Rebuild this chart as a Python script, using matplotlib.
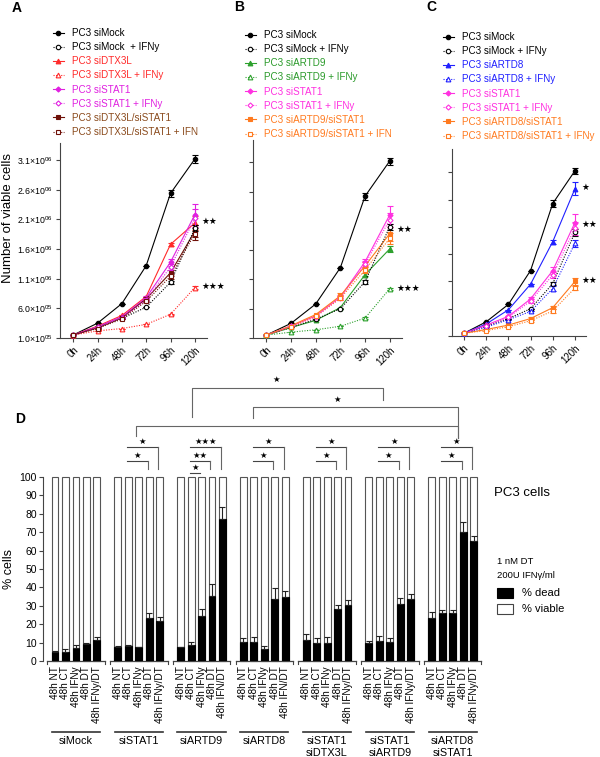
import matplotlib
matplotlib.use('Agg')
import numpy as np
import matplotlib.pyplot as plt
from matplotlib.lines import Line2D
from matplotlib.patches import Rectangle

plt.rcParams['font.family'] = ['Liberation Sans', 'DejaVu Sans']
plt.rcParams['mathtext.default'] = 'regular'

W, H = 600, 757

def fx(px):
    return px / W

def fy(py):
    return 1 - py / H

# ---------------- growth curves (cells x 1e6) ----------------
hours = [0, 24, 48, 72, 96, 120]
hour_labels = ['0h', '24h', '48h', '72h', '96h', '120h']

a_mock = [0.15, 0.35, 0.68, 1.32, 2.54, 3.12]
a_mock_ifn = [0.15, 0.28, 0.43, 0.62, 1.04, 1.95]
a_dtx3l = [0.15, 0.30, 0.48, 0.80, 1.68, 2.04]
a_dtx3l_ifn = [0.15, 0.22, 0.26, 0.33, 0.50, 0.95]
a_stat1 = [0.15, 0.29, 0.46, 0.78, 1.38, 2.18]
a_stat1_ifn = [0.15, 0.28, 0.44, 0.74, 1.30, 2.12]
a_dtx_stat = [0.15, 0.27, 0.44, 0.76, 1.20, 1.90]
a_dtx_stat_ifn = [0.15, 0.26, 0.42, 0.72, 1.14, 1.86]
a_err = [[0, 0, 0, 0, 0.06, 0.07], [0, 0, 0, 0, 0.03, 0.05], [0, 0, 0, 0, 0.03, 0.12],
         [0, 0, 0, 0, 0.01, 0.02], [0, 0, 0, 0.03, 0.06, 0.18], [0, 0, 0, 0.03, 0.05, 0.15],
         [0, 0, 0, 0.03, 0.05, 0.10], [0, 0, 0, 0.02, 0.04, 0.10]]

b_mock = [0.15, 0.35, 0.68, 1.30, 2.52, 3.12]
b_mock_ifn = [0.15, 0.28, 0.42, 0.60, 1.06, 2.00]
b_artd9 = [0.15, 0.28, 0.40, 0.62, 1.18, 1.62]
b_artd9_ifn = [0.15, 0.20, 0.24, 0.30, 0.44, 0.94]
b_stat1 = [0.15, 0.30, 0.48, 0.80, 1.40, 2.20]
b_stat1_ifn = [0.15, 0.30, 0.46, 0.78, 1.36, 2.12]
b_artd9_stat = [0.15, 0.31, 0.50, 0.82, 1.33, 1.88]
b_artd9_stat_ifn = [0.15, 0.29, 0.47, 0.78, 1.26, 1.80]
b_err = [[0, 0, 0, 0, 0.06, 0.06], [0, 0, 0, 0, 0.03, 0.05], [0, 0, 0, 0, 0.03, 0.05],
         [0, 0, 0, 0, 0.01, 0.02], [0, 0, 0, 0.03, 0.05, 0.15], [0, 0, 0, 0.03, 0.05, 0.12],
         [0, 0, 0, 0.04, 0.06, 0.12], [0, 0, 0, 0.03, 0.05, 0.10]]

c_mock = [0.15, 0.36, 0.68, 1.30, 2.53, 3.13]
c_mock_ifn = [0.15, 0.28, 0.42, 0.60, 1.06, 2.00]
c_artd8 = [0.15, 0.32, 0.58, 1.05, 1.83, 2.80]
c_artd8_ifn = [0.15, 0.26, 0.40, 0.55, 0.97, 1.80]
c_stat1 = [0.15, 0.30, 0.46, 0.78, 1.30, 2.18]
c_stat1_ifn = [0.15, 0.29, 0.44, 0.74, 1.22, 2.08]
c_artd8_stat = [0.15, 0.22, 0.30, 0.42, 0.62, 1.10]
c_artd8_stat_ifn = [0.15, 0.20, 0.27, 0.38, 0.56, 0.98]
c_err = [[0, 0, 0, 0, 0.06, 0.06], [0, 0, 0, 0, 0.03, 0.06], [0, 0, 0, 0, 0.04, 0.12],
         [0, 0, 0, 0, 0.04, 0.06], [0, 0, 0, 0.03, 0.06, 0.15], [0, 0, 0, 0.03, 0.05, 0.12],
         [0, 0, 0, 0.02, 0.03, 0.07], [0, 0, 0, 0.02, 0.03, 0.04]]

a_labels = ['PC3 siMock', 'PC3 siMock  + IFNy', 'PC3 siDTX3L', 'PC3 siDTX3L + IFNy',
            'PC3 siSTAT1', 'PC3 siSTAT1 + IFNy', 'PC3 siDTX3L/siSTAT1', 'PC3 siDTX3L/siSTAT1 + IFN']
b_labels = ['PC3 siMock', 'PC3 siMock + IFNy', 'PC3 siARTD9', 'PC3 siARTD9 + IFNy',
            'PC3 siSTAT1', 'PC3 siSTAT1 + IFNy', 'PC3 siARTD9/siSTAT1', 'PC3 siARTD9/siSTAT1 + IFN']
c_labels = ['PC3 siMock', 'PC3 siMock + IFNy', 'PC3 siARTD8', 'PC3 siARTD8 + IFNy',
            'PC3 siSTAT1', 'PC3 siSTAT1 + IFNy', 'PC3 siARTD8/siSTAT1', 'PC3 siARTD8/siSTAT1 + IFNy']

# significance marks next to 120h: (value x1e6, stars)
a_stars = [(2.06, '★★'), (0.97, '★★★')]
b_stars = [(1.96, '★★'), (0.94, '★★★')]
c_stars = [(2.82, '★'), (2.15, '★★'), (1.11, '★★')]

# ---------------- % dead cells (panel D) ----------------
groups = ['siMock', 'siSTAT1', 'siARTD9', 'siARTD8', 'siSTAT1\nsiDTX3L', 'siSTAT1\nsiARTD9', 'siARTD8\nsiSTAT1']
last_cond = ['48h IFNy/DT', '48h IFNy/DT', '48h IFN/DT', '48h IFN/DT', '48h IFNy/DT', '48h IFNy/DT', '48h IFNy/DT']
conds = ['48h NT', '48h CT', '48h IFNy', '48h DT']

d_simock = [4.9, 4.9, 7.0, 9.0, 11.4]
d_sistat1 = [7.4, 8.0, 7.4, 23.5, 21.7]
d_siartd9 = [7.4, 8.5, 24.3, 35.5, 77.2]
d_siartd8 = [10.2, 10.2, 6.5, 33.7, 34.8]
d_stat1_dtx3l = [11.3, 9.8, 9.8, 28.0, 30.4]
d_stat1_artd9 = [9.6, 10.8, 10.2, 31.0, 33.7]
d_artd8_stat1 = [23.3, 26.0, 26.0, 70.0, 65.0]

e_simock = [0.5, 1.5, 1.7, 0.6, 1.6]
e_sistat1 = [0.6, 0.7, 0.4, 2.5, 2.2]
e_siartd9 = [0.4, 1.6, 3.8, 6.3, 6.6]
e_siartd8 = [2.2, 2.7, 1.7, 6.0, 3.2]
e_stat1_dtx3l = [3.3, 2.7, 3.3, 2.5, 2.6]
e_stat1_artd9 = [1.0, 2.7, 2.2, 3.0, 2.8]
e_artd8_stat1 = [3.3, 1.7, 1.5, 5.6, 3.0]

dead = [d_simock, d_sistat1, d_siartd9, d_siartd8, d_stat1_dtx3l, d_stat1_artd9, d_artd8_stat1]
dead_err = [e_simock, e_sistat1, e_siartd9, e_siartd8, e_stat1_dtx3l, e_stat1_artd9, e_artd8_stat1]

# within-group brackets: (group, bar to compare, stars)
sub_brackets = [(1, 4, '★'), (1, 3, '★'),
                (2, 4, '★★★'), (2, 3, '★★'), (2, 2, '★'),
                (3, 4, '★'), (3, 3, '★'),
                (4, 4, '★'), (4, 3, '★'),
                (5, 4, '★'), (5, 3, '★'),
                (6, 4, '★'), (6, 3, '★')]

fig = plt.figure(figsize=(6, 7.57), dpi=100)

markers = ['o', 'o', '^', '^', 'D', 'D', 's', 's']
sizes = [3.2, 3.2, 3.4, 3.4, 2.6, 2.6, 3.0, 3.0]
filled = [True, False] * 4
dotted = (0, (1, 1.3))

panels = [
    dict(rect=(60, 143, 207, 338), ymax=3.39, data=[a_mock, a_mock_ifn, a_dtx3l, a_dtx3l_ifn, a_stat1, a_stat1_ifn, a_dtx_stat, a_dtx_stat_ifn],
         err=a_err, labels=a_labels,
         colors=['black', 'black', '#ff2a2a', '#ff2a2a', '#e020e0', '#e020e0', '#6e1008', '#6e1008'],
         tcolors=['black', 'black', '#ff2a2a', '#ff2a2a', '#e020e0', '#e020e0', '#8a4a1c', '#8a4a1c'],
         leg=(53, 28), stars=a_stars, letter=('A', 12, 8), yticklabels=True),
    dict(rect=(253, 140, 402, 338), ymax=3.48, data=[b_mock, b_mock_ifn, b_artd9, b_artd9_ifn, b_stat1, b_stat1_ifn, b_artd9_stat, b_artd9_stat_ifn],
         err=b_err, labels=b_labels,
         colors=['black', 'black', '#2ca02c', '#2ca02c', '#ff30e0', '#ff30e0', '#ff7a1f', '#ff7a1f'],
         tcolors=['black', 'black', '#2a9a2a', '#2a9a2a', '#ff30e0', '#ff30e0', '#ff7a1f', '#ff7a1f'],
         leg=(245, 30), stars=b_stars, letter=('B', 234, 7), yticklabels=False),
    dict(rect=(452, 149, 586, 336), ymax=3.53, data=[c_mock, c_mock_ifn, c_artd8, c_artd8_ifn, c_stat1, c_stat1_ifn, c_artd8_stat, c_artd8_stat_ifn],
         err=c_err, labels=c_labels,
         colors=['black', 'black', '#2020ff', '#2020ff', '#ff30e0', '#ff30e0', '#ff7a1f', '#ff7a1f'],
         tcolors=['black', 'black', '#2020ff', '#2020ff', '#ff30e0', '#ff30e0', '#ff7a1f', '#ff7a1f'],
         leg=(443, 32), stars=c_stars, letter=('C', 426, 7), yticklabels=False),
]

ytick_vals = [0.1, 0.6, 1.1, 1.6, 2.1, 2.6, 3.1]
ytick_text = ['1.0×10$^{05}$', '6.0×10$^{05}$', '1.1×10$^{06}$', '1.6×10$^{06}$',
              '2.1×10$^{06}$', '2.6×10$^{06}$', '3.1×10$^{06}$']

for p in panels:
    x0, y0, x1, y1 = p['rect']
    ax = fig.add_axes([fx(x0), fy(y1), (x1 - x0) / W, (y1 - y0) / H])
    handles = []
    for k, vals in enumerate(p['data']):
        col = p['colors'][k]
        ls = '-' if filled[k] else dotted
        mfc = col if filled[k] else 'white'
        ax.errorbar(hours, vals, yerr=p['err'][k], color=col, marker=markers[k], ms=sizes[k],
                    mfc=mfc, mec=col, mew=0.8, ls=ls, lw=0.8, elinewidth=0.8, capsize=2,
                    capthick=0.8, zorder=3 + (0 if filled[k] else 1))
        handles.append(Line2D([], [], color=col, marker=markers[k], ms=sizes[k], mfc=mfc,
                              mec=col, mew=0.8, ls=ls, lw=0.8))
    ax.set_xlim(-13, 132)
    ax.set_ylim(0.1, p['ymax'])
    ax.set_xticks(hours)
    ax.set_xticklabels(hour_labels, rotation=45, ha='right', rotation_mode='anchor', fontsize=7)
    ax.set_yticks(ytick_vals)
    if p['yticklabels']:
        ax.set_yticklabels(ytick_text, fontsize=6.3)
    else:
        ax.set_yticklabels([])
    ax.tick_params(length=3, width=0.8, color='#444', pad=2)
    for s in ['top', 'right']:
        ax.spines[s].set_visible(False)
    for s in ['left', 'bottom']:
        ax.spines[s].set_color('#444')
        ax.spines[s].set_linewidth(0.8)
    for yv, st in p['stars']:
        ax.text(hours[-1] + 7, yv, st, fontsize=6.3, va='center', ha='left', clip_on=False)
    leg = ax.legend(handles, p['labels'], loc='upper left', bbox_to_anchor=(fx(p['leg'][0]), fy(p['leg'][1])),
                    bbox_transform=fig.transFigure, frameon=False, fontsize=7.1, borderpad=0,
                    borderaxespad=0, handlelength=1.1, handletextpad=0.8, labelspacing=0.42,
                    labelcolor=p['tcolors'])
    letter, lx, ly = p['letter']
    fig.text(fx(lx), fy(ly), letter, fontsize=10, fontweight='bold', va='center', ha='left')

fig.text(fx(8), fy(218), 'Number of viable cells', rotation=90, fontsize=9.5, va='center', ha='center')

# ---------------- panel D ----------------
axd = fig.add_axes([fx(43), fy(661), 440 / W, 184 / H])
positions = []
labels = []
for g in range(len(groups)):
    for i in range(5):
        positions.append(g * 6 + i)
        labels.append(conds[i] if i < 4 else last_cond[g])
positions = np.array(positions)
dead_flat = np.concatenate(dead)
err_flat = np.concatenate(dead_err)

axd.bar(positions, 100, width=0.66, color='white', edgecolor='#555', linewidth=0.8, clip_on=False, zorder=2)
axd.bar(positions, dead_flat, width=0.66, color='black', edgecolor='black', linewidth=0.8, zorder=3)
axd.errorbar(positions, dead_flat, yerr=[np.zeros_like(err_flat), err_flat], fmt='none',
             ecolor='#222', elinewidth=0.8, capsize=2, capthick=0.8, zorder=4)
axd.set_xlim(-1.15, 40.9)
axd.set_ylim(0, 100)
axd.set_yticks(range(0, 101, 10))
axd.tick_params(axis='y', labelsize=7.5, length=3, width=0.8, color='#444', pad=1.5)
axd.set_xticks(positions)
axd.set_xticklabels(labels, rotation=90, fontsize=7.2)
axd.tick_params(axis='x', length=0, pad=4)
for s in ['top', 'right', 'bottom']:
    axd.spines[s].set_visible(False)
axd.spines['left'].set_color('#444')
axd.spines['left'].set_linewidth(0.8)
axd.set_ylabel('% cells', fontsize=9, labelpad=3)

xt = axd.get_xaxis_transform()
for g, name in enumerate(groups):
    lo, hi = g * 6 - 0.75, g * 6 + 4.75
    axd.plot([lo, hi], [0, 0], color='#444', lw=0.9, clip_on=False)
    for xe in (lo, hi):
        axd.plot([xe, xe], [0, -1.5], color='#444', lw=0.8, clip_on=False)
    axd.plot([g * 6 - 0.3, g * 6 + 4.3], [-0.386, -0.386], color='#333', lw=1.2,
             transform=xt, clip_on=False)
    axd.text(g * 6 + 2, -0.41, name, transform=xt, ha='center', va='top', fontsize=7.8,
             linespacing=1.25)

# within-group brackets
levels = {4: 116.3, 3: 108.8, 2: 102.2}
for g, bar, st in sub_brackets:
    xl = g * 6 + 0.9
    xr = g * 6 + bar - 0.15
    lvl = levels[bar]
    axd.plot([xl, xr], [lvl, lvl], color='#444', lw=0.8, clip_on=False)
    if bar > 2:
        axd.plot([xr, xr], [lvl, 104.2], color='#666', lw=0.8, clip_on=False)
    axd.text((xl + xr) / 2, lvl + 0.6, st, ha='center', va='bottom', fontsize=6, clip_on=False)

# between-group brackets: (x left, x right, level, left drop end, right drop end)
big_brackets = [(13.1, 31.3, 148.4, 132.6, 141.8),
                (18.9, 38.5, 138.0, 132.1, 121.2),
                (7.75, 38.5, 127.7, 122.3, 121.2)]
for xl, xr, lvl, dl, dr in big_brackets:
    axd.plot([xl, xl, xr, xr], [dl, lvl, lvl, dr], color='#666', lw=0.8, clip_on=False)
axd.text(21.1, 152.2, '★', ha='center', va='center', fontsize=6, clip_on=False)
axd.text(27.0, 141.8, '★', ha='center', va='center', fontsize=6, clip_on=False)

fig.text(fx(15), fy(419), 'D', fontsize=10, fontweight='bold', va='center', ha='left')

# right-hand annotation
fig.text(fx(494), fy(493), 'PC3 cells', fontsize=9.5, va='center', ha='left')
fig.text(fx(497), fy(561), '1 nM DT', fontsize=6.8, va='center', ha='left')
fig.text(fx(497), fy(576), '200U IFNγ/ml', fontsize=6.8, va='center', ha='left')
fig.add_artist(Rectangle((fx(497), fy(598)), 16 / W, 10 / H, transform=fig.transFigure,
                         facecolor='black', edgecolor='black', lw=0.8))
fig.add_artist(Rectangle((fx(497), fy(614)), 16 / W, 10 / H, transform=fig.transFigure,
                         facecolor='white', edgecolor='#444', lw=0.8))
fig.text(fx(522), fy(593), '% dead', fontsize=8, va='center', ha='left')
fig.text(fx(522), fy(609), '% viable', fontsize=8, va='center', ha='left')

fig.savefig('out.png', dpi=100)
